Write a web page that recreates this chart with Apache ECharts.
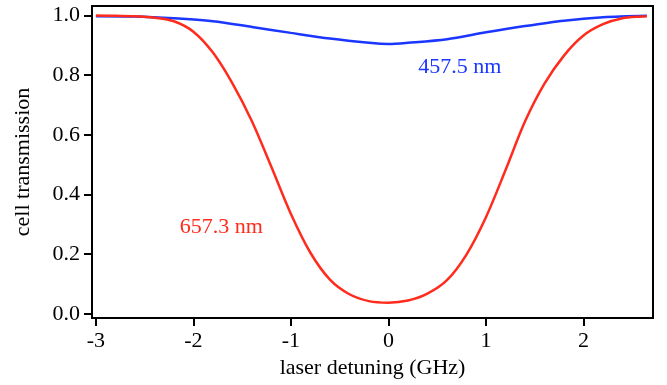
<!DOCTYPE html>
<html>
<head>
<meta charset="utf-8">
<script src="https://cdn.jsdelivr.net/npm/echarts@6/dist/echarts.min.js"></script>
<style>
html,body{margin:0;padding:0;background:#fff;}
#c{width:667px;height:385px;}
</style>
</head>
<body>
<div id="c"></div>
<script>
// detuning (GHz) and transmission
const redX = [-3.0, -2.8, -2.6, -2.4, -2.2, -2.0, -1.8, -1.6, -1.4, -1.2, -1.0, -0.8, -0.6, -0.4, -0.2, 0.0, 0.2, 0.4, 0.6, 0.8, 1.0, 1.2, 1.4, 1.6, 1.8, 2.0, 2.2, 2.4, 2.6, 2.65];
const redY = [0.999, 0.998, 0.997, 0.992, 0.980, 0.945, 0.875, 0.772, 0.645, 0.492, 0.335, 0.205, 0.115, 0.066, 0.043, 0.038, 0.045, 0.068, 0.113, 0.199, 0.324, 0.481, 0.644, 0.771, 0.865, 0.932, 0.970, 0.990, 0.996, 0.997];
const blueX = [-3.0, -2.6, -2.2, -1.8, -1.4, -1.0, -0.6, -0.2, 0.0, 0.2, 0.6, 1.0, 1.4, 1.8, 2.2, 2.65];
const blueY = [0.997, 0.996, 0.990, 0.980, 0.961, 0.941, 0.922, 0.908, 0.904, 0.908, 0.920, 0.943, 0.964, 0.982, 0.993, 0.998];
const xTicks = [-3, -2, -1, 0, 1, 2];
const yTicks = [0, 0.2, 0.4, 0.6, 0.8, 1.0];
const seriesNames = ['657.3 nm', '457.5 nm'];
const xTitle = 'laser detuning (GHz)';
const yTitle = 'cell transmission';

const RED = '#ff2b1c';
const BLUE = '#1a36ff';
const FONT = "'Liberation Serif', 'Times New Roman', serif";
const tickRich = { t: { fontFamily: FONT, fontSize: 22, color: '#000' } };

const pairs = (xs, ys) => xs.map((x, i) => [x, ys[i]]);

const chart = echarts.init(document.getElementById('c'));
chart.setOption({
  animation: false,
  backgroundColor: '#fff',
  textStyle: { fontFamily: FONT },
  grid: { left: 92, right: 14, top: 6, bottom: 67, show: true, borderColor: '#000', borderWidth: 2, backgroundColor: 'transparent' },
  xAxis: {
    type: 'value', min: -3.04, max: 2.713,
    name: xTitle, nameLocation: 'middle', nameGap: 33,
    nameTextStyle: { fontFamily: FONT, fontSize: 22, color: '#000' },
    axisLine: { show: true, onZero: false, lineStyle: { color: '#000', width: 2 } },
    axisTick: { show: true, length: 8, lineStyle: { color: '#000', width: 2 }, customValues: xTicks },
    axisLabel: { fontFamily: FONT, fontSize: 22, color: '#000', margin: 12, customValues: xTicks,
      formatter: v => '{t|' + String(v) + '}', rich: tickRich },
    splitLine: { show: false }
  },
  yAxis: {
    type: 'value', min: -0.0134, max: 1.031,
    name: yTitle, nameLocation: 'middle', nameGap: 58, nameRotate: 90,
    nameTextStyle: { fontFamily: FONT, fontSize: 22, color: '#000' },
    axisLine: { show: true, onZero: false, lineStyle: { color: '#000', width: 2 } },
    axisTick: { show: true, length: 8, lineStyle: { color: '#000', width: 2 }, customValues: yTicks },
    axisLabel: { fontFamily: FONT, fontSize: 22, color: '#000', margin: 12, customValues: yTicks,
      formatter: v => '{t|' + v.toFixed(1) + '}', rich: tickRich },
    splitLine: { show: false }
  },
  series: [
    {
      name: seriesNames[0], type: 'line', data: pairs(redX, redY), smooth: 0.3, showSymbol: false,
      lineStyle: { color: RED, width: 2.5 }, itemStyle: { color: RED }, z: 3,
      markPoint: {
        symbol: 'circle', symbolSize: 0, silent: true,
        data: [{ coord: [-1.713, 0.291], value: seriesNames[0] }],
        label: { show: true, position: 'inside', formatter: seriesNames[0], fontFamily: FONT, fontSize: 22, color: RED }
      }
    },
    {
      name: seriesNames[1], type: 'line', data: pairs(blueX, blueY), smooth: 0.3, showSymbol: false,
      lineStyle: { color: BLUE, width: 2.5 }, itemStyle: { color: BLUE }, z: 2,
      markPoint: {
        symbol: 'circle', symbolSize: 0, silent: true,
        data: [{ coord: [0.733, 0.827], value: seriesNames[1] }],
        label: { show: true, position: 'inside', formatter: seriesNames[1], fontFamily: FONT, fontSize: 22, color: BLUE }
      }
    }
  ]
});
</script>
</body>
</html>
